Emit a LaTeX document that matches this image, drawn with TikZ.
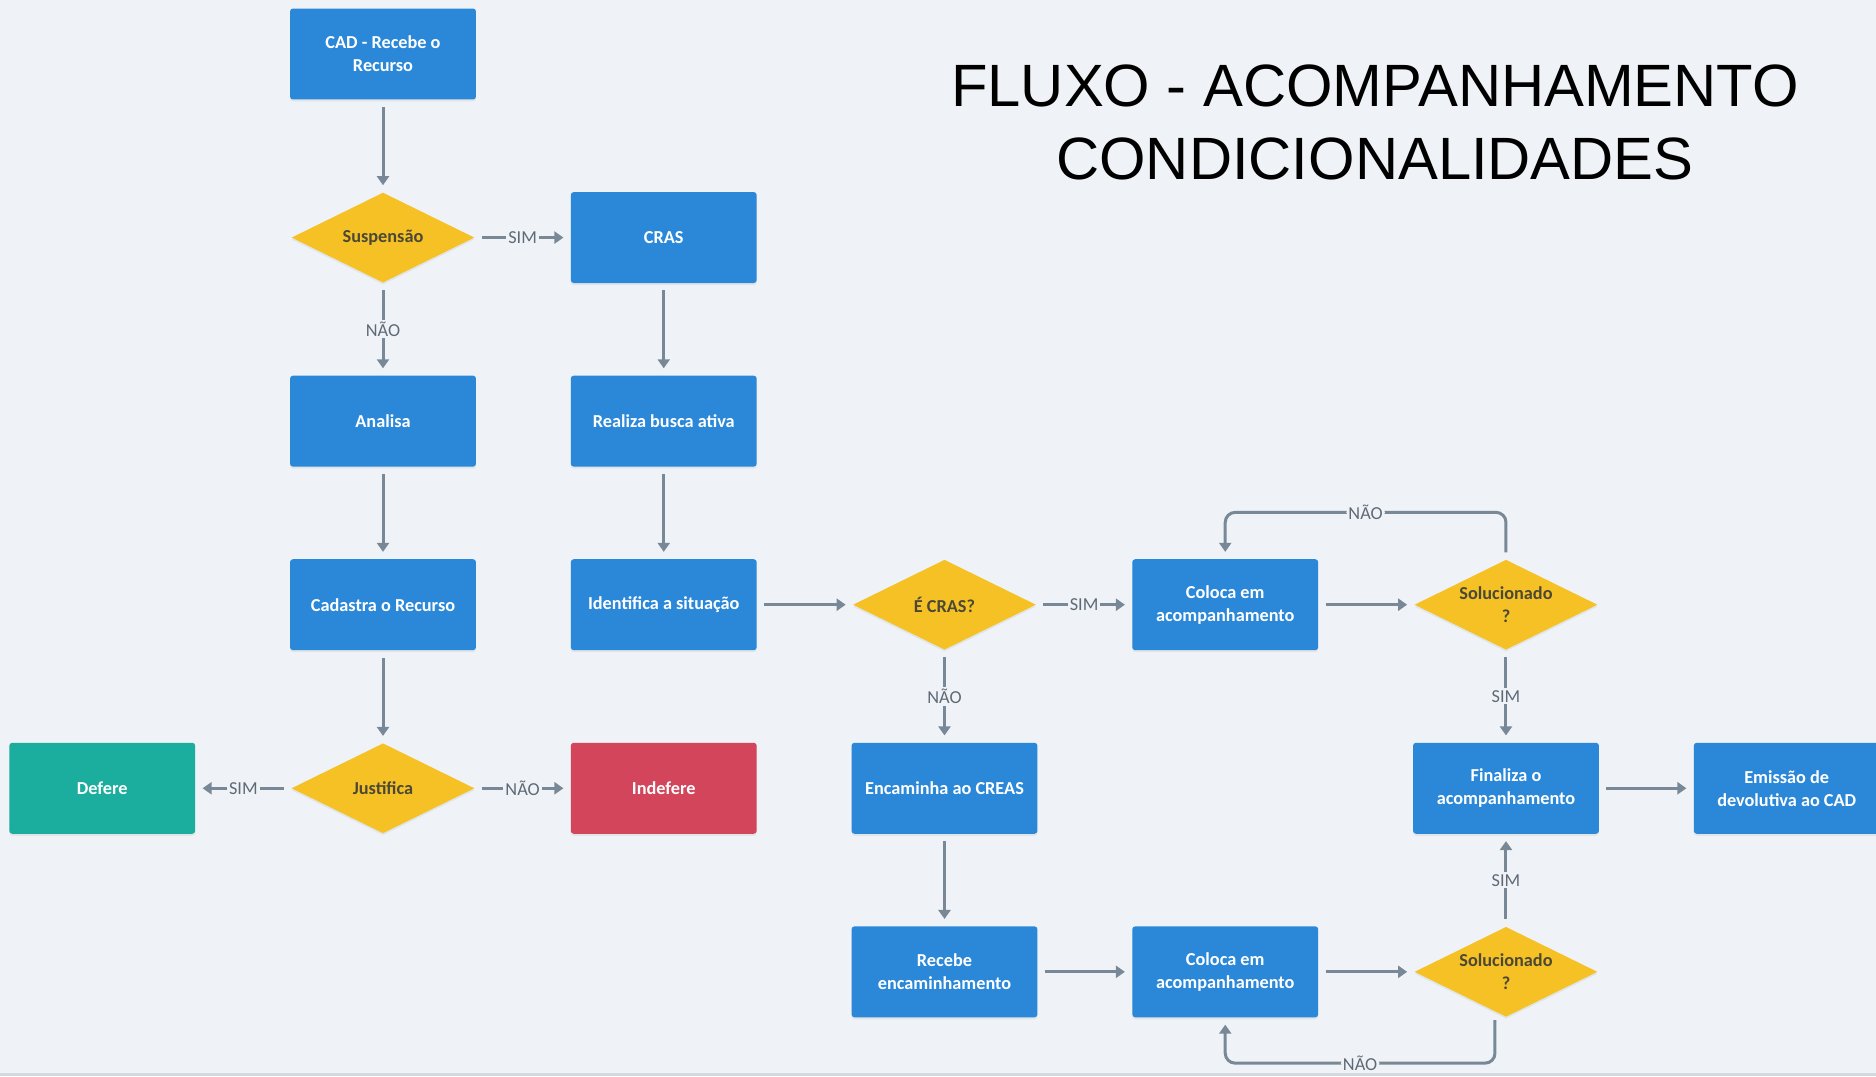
\documentclass[tikz,border=0pt]{standalone}
\usepackage{fontspec}
\setmainfont{Carlito}
\newfontfamily\titlefont{Liberation Sans}
\usetikzlibrary{positioning, shapes.geometric, arrows.meta, shadows}

\definecolor{bgcol}{HTML}{EFF3F7}
\definecolor{boxblue}{HTML}{2B88D9}
\definecolor{decyellow}{HTML}{F6C125}
\definecolor{okgreen}{HTML}{1BAE9F}
\definecolor{badred}{HTML}{D3455B}
\definecolor{linegray}{HTML}{788896}
\definecolor{dectext}{HTML}{4B4936}
\definecolor{lbltext}{HTML}{5E6A75}
\definecolor{edgegray}{HTML}{D3D9DF}

\begin{document}
\begin{tikzpicture}[x=0.02cm, y=-0.02cm,
        node distance=3.672cm and 5.616cm, on grid,
        proc/.style={rectangle, rounded corners=0.06cm, fill=boxblue, text=white,
                minimum width=3.72cm, minimum height=1.82cm, align=center,
                font=\fontsize{10.4}{13}\selectfont\bfseries,
                drop shadow={shadow xshift=0cm, shadow yshift=-0.04cm, opacity=0.12}},
        decision/.style={diamond, fill=decyellow, text=dectext, aspect=2,
                minimum width=3.66cm, minimum height=1.8cm, inner sep=0pt, align=center,
                font=\fontsize{10.4}{13}\selectfont\bfseries,
                drop shadow={shadow xshift=0cm, shadow yshift=-0.04cm, opacity=0.12}},
        flow/.style={draw=linegray, line width=0.06cm,
                -{Triangle[length=0.18cm, width=0.24cm]},
                shorten <=0.14cm, shorten >=0.14cm},
        lbl/.style={fill=bgcol, text=lbltext, inner sep=0.04cm,
                font=\fontsize{10.4}{12}\selectfont}]
    \useasboundingbox (0,0) rectangle (1876,1076);
    \clip (0,0) rectangle (1876,1076);
    \fill[bgcol] (0,0) rectangle (1876,1076);
    \fill[edgegray] (0,1073) rectangle (1876,1076);

    \node[font=\titlefont\fontsize{34}{41.5}\selectfont, align=center] (title) at (1375,122)
        {FLUXO - ACOMPANHAMENTO\\CONDICIONALIDADES};

    % left part
    \node[proc] (cad) at (383,54) {CAD - Recebe o\\Recurso};
    \node[decision, below=of cad] (susp) {Suspensão};
    \node[proc, right=of susp] (cras) {CRAS};
    \node[proc, below=of susp] (analisa) {Analisa};
    \node[proc, below=of analisa] (cadastra) {Cadastra o Recurso};
    \node[decision, below=of cadastra] (justifica) {Justifica};
    \node[proc, fill=okgreen, left=of justifica] (defere) {Defere};
    \node[proc, fill=badred, right=of justifica] (indefere) {Indefere};
    \node[proc, below=of cras] (busca) {Realiza busca ativa};
    \node[proc, below=of busca] (identifica) {Identifica a situação};

    % right part
    \node[decision, right=of identifica] (ecras) {É CRAS?};
    \node[proc, right=of ecras] (coloca1) {Coloca em\\acompanhamento};
    \node[decision, right=of coloca1] (sol1) {Solucionado\\?};
    \node[proc, below=of ecras] (encaminha) {Encaminha ao CREAS};
    \node[proc, below=of encaminha] (recebe) {Recebe\\encaminhamento};
    \node[proc, right=of recebe] (coloca2) {Coloca em\\acompanhamento};
    \node[decision, right=of coloca2] (sol2) {Solucionado\\?};
    \node[proc, below=of sol1] (finaliza) {Finaliza o\\acompanhamento};
    \node[proc, right=of finaliza] (emissao) {Emissão de\\devolutiva ao CAD};

    \draw[flow] (cad) -- (susp);
    \draw[flow] (susp) -- node[lbl]{SIM} (cras);
    \draw[flow] (susp) -- node[lbl]{NÃO} (analisa);
    \draw[flow] (analisa) -- (cadastra);
    \draw[flow] (cadastra) -- (justifica);
    \draw[flow] (justifica) -- node[lbl]{SIM} (defere);
    \draw[flow] (justifica) -- node[lbl]{NÃO} (indefere);
    \draw[flow] (cras) -- (busca);
    \draw[flow] (busca) -- (identifica);
    \draw[flow] (identifica) -- (ecras);
    \draw[flow] (ecras) -- node[lbl]{SIM} (coloca1);
    \draw[flow] (ecras) -- node[lbl]{NÃO} (encaminha);
    \draw[flow] (coloca1) -- (sol1);
    \draw[flow, rounded corners=0.2cm] (sol1.north) -- ++(0,-47) -| node[lbl, pos=0.25]{NÃO} (coloca1.north);
    \draw[flow] (sol1) -- node[lbl]{SIM} (finaliza);
    \draw[flow] (encaminha) -- (recebe);
    \draw[flow] (recebe) -- (coloca2);
    \draw[flow] (coloca2) -- (sol2);
    \draw[flow, rounded corners=0.2cm, shorten <=0.06cm] ([xshift=-0.22cm]sol2.south) -- ++(0,46) -| node[lbl, pos=0.25]{NÃO} (coloca2.south);
    \draw[flow] (sol2) -- node[lbl]{SIM} (finaliza);
    \draw[flow] (finaliza) -- (emissao);
\end{tikzpicture}
\end{document}
